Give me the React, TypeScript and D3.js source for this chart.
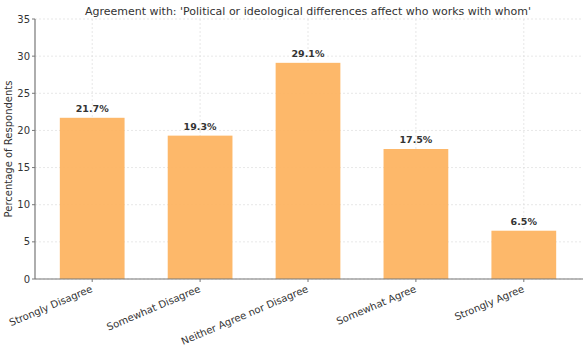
import React from "react";
import * as d3 from "d3";

const categories = ["Strongly Disagree", "Somewhat Disagree", "Neither Agree nor Disagree", "Somewhat Agree", "Strongly Agree"];
const values = [21.7, 19.3, 29.1, 17.5, 6.5];
const yTicks = [0, 5, 10, 15, 20, 25, 30, 35];
const title = "Agreement with: 'Political or ideological differences affect who works with whom'";
const yLabel = "Percentage of Respondents";

const W = 588, H = 355;
const left = 35, right = 581, top = 19, bottom = 279;
const font = "DejaVu Sans, sans-serif";

export default function App() {
  const x = d3.scaleLinear().domain([-0.53, categories.length - 1 + 0.53]).range([left, right]);
  const y = d3.scaleLinear().domain([0, 35]).range([bottom, top]);
  const bw = x(0.3) - x(-0.3);
  return (
    <svg width={W} height={H} style={{ position: "absolute", left: 0, top: 0 }} fontFamily={font}>
      <rect width={W} height={H} fill="#fff" />
      {yTicks.map((t) => (
        <line key={"gy" + t} x1={left} x2={right} y1={y(t)} y2={y(t)} stroke="#dcdcdc" strokeWidth={0.7} strokeDasharray="2,2" />
      ))}
      {categories.map((c, i) => (
        <line key={"gx" + i} x1={x(i)} x2={x(i)} y1={top} y2={bottom} stroke="#dcdcdc" strokeWidth={0.7} strokeDasharray="2,2" />
      ))}
      {values.map((v, i) => (
        <rect key={"b" + i} x={x(i) - bw / 2} y={y(v)} width={bw} height={y(0) - y(v)} fill="#fdb462" fillOpacity={0.95} />
      ))}
      {values.map((v, i) => (
        <text key={"v" + i} x={x(i)} y={y(v) - 6} textAnchor="middle" fontSize={9.5} fontWeight="bold" fill="#333">
          {v.toFixed(1)}%
        </text>
      ))}
      <line x1={left} x2={left} y1={top} y2={bottom} stroke="#777" strokeWidth={1.2} />
      <line x1={left} x2={right + 2} y1={bottom} y2={bottom} stroke="#777" strokeWidth={1.2} />
      {yTicks.map((t) => (
        <g key={"ty" + t}>
          <line x1={left - 3} x2={left} y1={y(t)} y2={y(t)} stroke="#777" />
          <text x={left - 5} y={y(t)} dy="0.35em" textAnchor="end" fontSize={10} fill="#333">{t}</text>
        </g>
      ))}
      {categories.map((c, i) => (
        <g key={"tx" + i}>
          <line x1={x(i)} x2={x(i)} y1={bottom} y2={bottom + 3} stroke="#777" />
          <text transform={`translate(${x(i) + 1},${bottom + 12.5}) rotate(-23)`} textAnchor="end" fontSize={10} fill="#333">{c}</text>
        </g>
      ))}
      <text transform={`translate(12,${(top + bottom) / 2}) rotate(-90)`} textAnchor="middle" fontSize={10} fill="#333">{yLabel}</text>
      <text x={(left + right) / 2} y={15} textAnchor="middle" fontSize={11} fill="#333">{title}</text>
    </svg>
  );
}
